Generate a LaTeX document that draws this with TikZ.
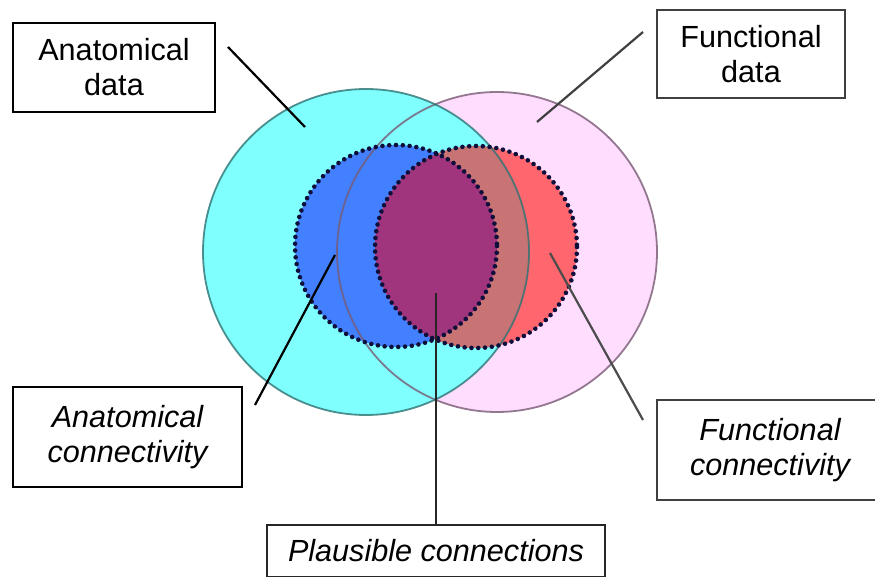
\documentclass[tikz,border=0pt]{standalone}
\usepackage{fontspec}
\setmainfont{Liberation Sans}
\definecolor{cyanfill}{RGB}{128,255,255}
\definecolor{pinkfill}{RGB}{255,221,255}
\definecolor{bluefill}{RGB}{66,128,255}
\definecolor{redfill}{RGB}{255,102,110}
\definecolor{brownfill}{RGB}{200,116,116}
\definecolor{purplefill}{RGB}{160,52,125}
\definecolor{dotcol}{RGB}{15,15,60}
\definecolor{cyanline}{RGB}{45,115,115}
\definecolor{pinkline}{RGB}{120,90,115}

\begin{document}
\begin{tikzpicture}[x=0.5pt, y=-0.5pt,
  box/.style={draw, line width=1.2pt, align=center, inner sep=0pt, fill=white, font=\fontsize{15.3pt}{17.5pt}\selectfont},
  lead/.style={line width=1.1pt},
  spot/.style={draw=dotcol, line width=2.3pt, line cap=round, dash pattern=on 0pt off 3.4pt}]

  \useasboundingbox (0,0) rectangle (875,577);
  \clip (0,0) rectangle (875,577);

  % Sets
  \fill[pinkfill] (497,252) circle [radius=160];
  \fill[cyanfill] (366,252) circle [radius=163];
  \fill[bluefill] (396,246) circle [radius=101];
  \fill[redfill] (476,247) circle [radius=101];
  \begin{scope}
    \clip (366,252) circle [radius=163];
    \fill[brownfill] (476,247) circle [radius=101];
  \end{scope}
  \begin{scope}
    \clip (396,246) circle [radius=101];
    \fill[purplefill] (476,247) circle [radius=101];
  \end{scope}

  % Outlines
  \draw[pinkline, line width=0.9pt, draw opacity=0.8] (497,252) circle [radius=160];
  \draw[cyanline, line width=0.9pt, draw opacity=0.8] (366,252) circle [radius=163];
  \draw[spot] (396,246) circle [radius=101];
  \draw[spot] (476,247) circle [radius=101];

  % Labels
  \node[box, minimum width=101pt, minimum height=44.5pt] (A1) at (114,67.5) {Anatomical\\data};
  \node[box, draw=black!75, minimum width=94pt, minimum height=44pt] (F1) at (751,54) {Functional\\data};
  \node[box, minimum width=114.5pt, minimum height=50pt] (A2) at (127.5,437) {\itshape Anatomical\\\itshape connectivity};
  \node[box, draw=black!75, minimum width=113pt, minimum height=50pt] (F2) at (770,450) {\itshape Functional\\\itshape connectivity};
  \node[box, draw=black!85, minimum width=169pt, minimum height=26pt] (P) at (436,551) {\itshape Plausible connections};

  % Line ends
  \node[coordinate] (J1) at (228,47) {};
  \node[coordinate] (G1) at (305,127) {};
  \node[coordinate] (J2) at (643,32) {};
  \node[coordinate] (G2) at (537,122) {};
  \node[coordinate] (J3) at (255,405) {};
  \node[coordinate] (G3) at (335,255) {};
  \node[coordinate] (J4) at (643,420) {};
  \node[coordinate] (G4) at (550,253) {};
  \node[coordinate] (G5) at (436,293) {};

  % Pointer lines
  \draw[lead] (J1) -- (G1);
  \draw[lead, black!75] (J2) -- (G2);
  \draw[lead] (J3) -- (G3);
  \draw[lead, black!70] (J4) -- (G4);
  \draw[lead, black!85] (P.north) -- (G5);

\end{tikzpicture}
\end{document}
